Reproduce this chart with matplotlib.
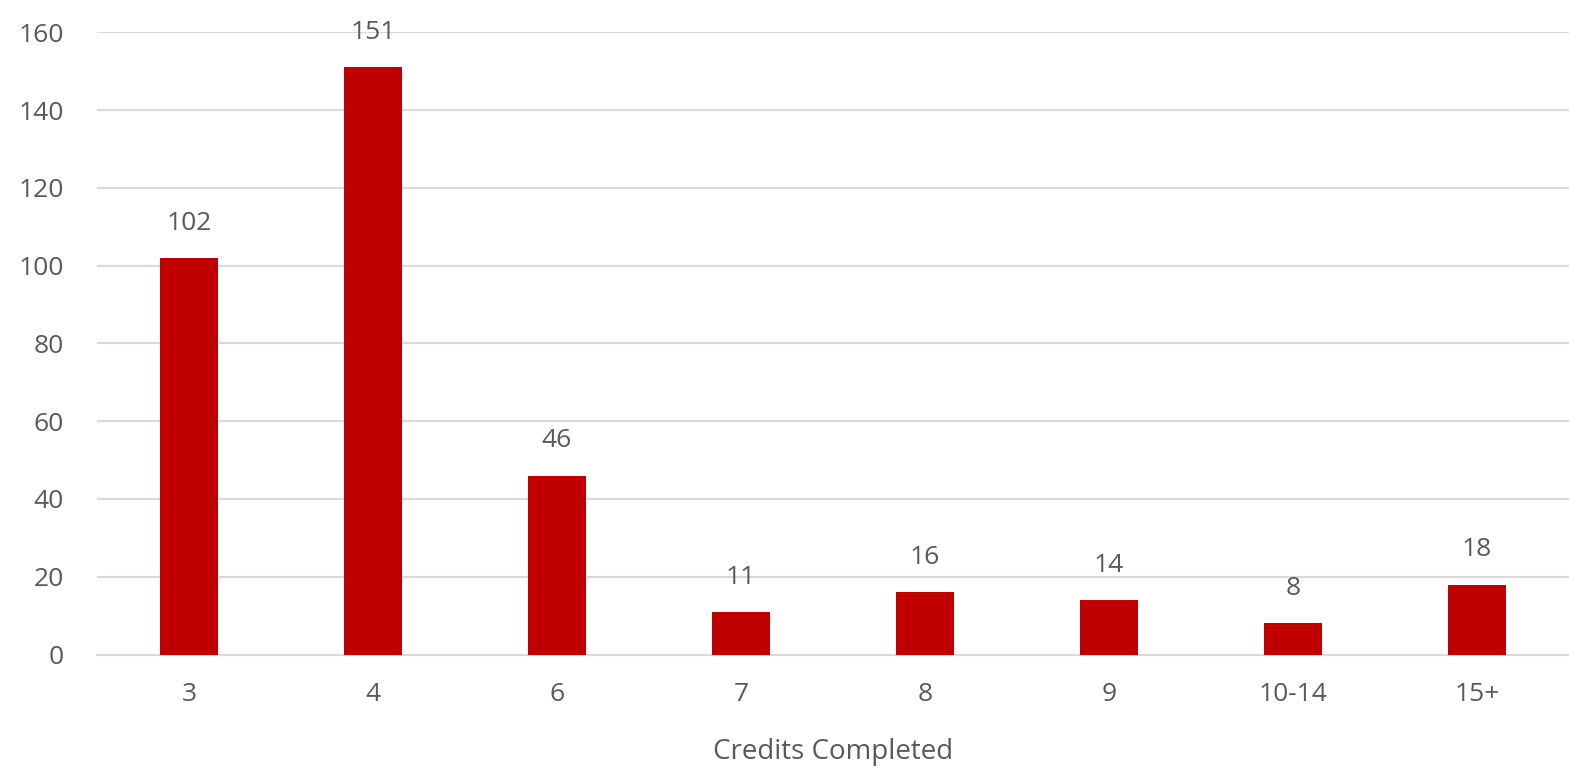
import matplotlib
matplotlib.use("Agg")
import matplotlib.pyplot as plt

categories = ["3", "4", "6", "7", "8", "9", "10-14", "15+"]
counts = [102, 151, 46, 11, 16, 14, 8, 18]
yticks = [0, 20, 40, 60, 80, 100, 120, 140, 160]

plt.rcParams['font.family'] = ['Open Sans', 'DejaVu Sans']
text_col = "#595959"

fig = plt.figure(figsize=(15.69, 7.71), dpi=100)
ax = fig.add_axes([0.0618, 0.1511, 0.9382, 0.807])

x = range(len(categories))
bars = ax.bar(x, counts, width=0.315, color="#C00000", zorder=3)
for b, v in zip(bars, counts):
	ax.annotate(str(v), (b.get_x() + b.get_width() / 2, v), xytext=(0, 16),
		textcoords="offset points", ha="center", va="bottom",
		fontsize=19, color=text_col)

ax.set_xlim(-0.5, len(categories) - 0.5)
ax.set_ylim(0, 160)
ax.set_yticks(yticks)
ax.set_xticks(list(x))
ax.set_xticklabels(categories)
ax.tick_params(axis="both", length=0, labelsize=19, labelcolor=text_col)
ax.tick_params(axis="y", pad=24)
ax.tick_params(axis="x", pad=20)
ax.grid(axis="y", color="#D9D9D9", linewidth=1.5, zorder=0)
for s in ["top", "right", "left"]:
	ax.spines[s].set_visible(False)
ax.spines["bottom"].set_color("#D9D9D9")
ax.spines["bottom"].set_linewidth(1.5)

ax.set_xlabel("Credits Completed", fontsize=20, color=text_col, labelpad=22)

fig.savefig("out.png", dpi=100)
